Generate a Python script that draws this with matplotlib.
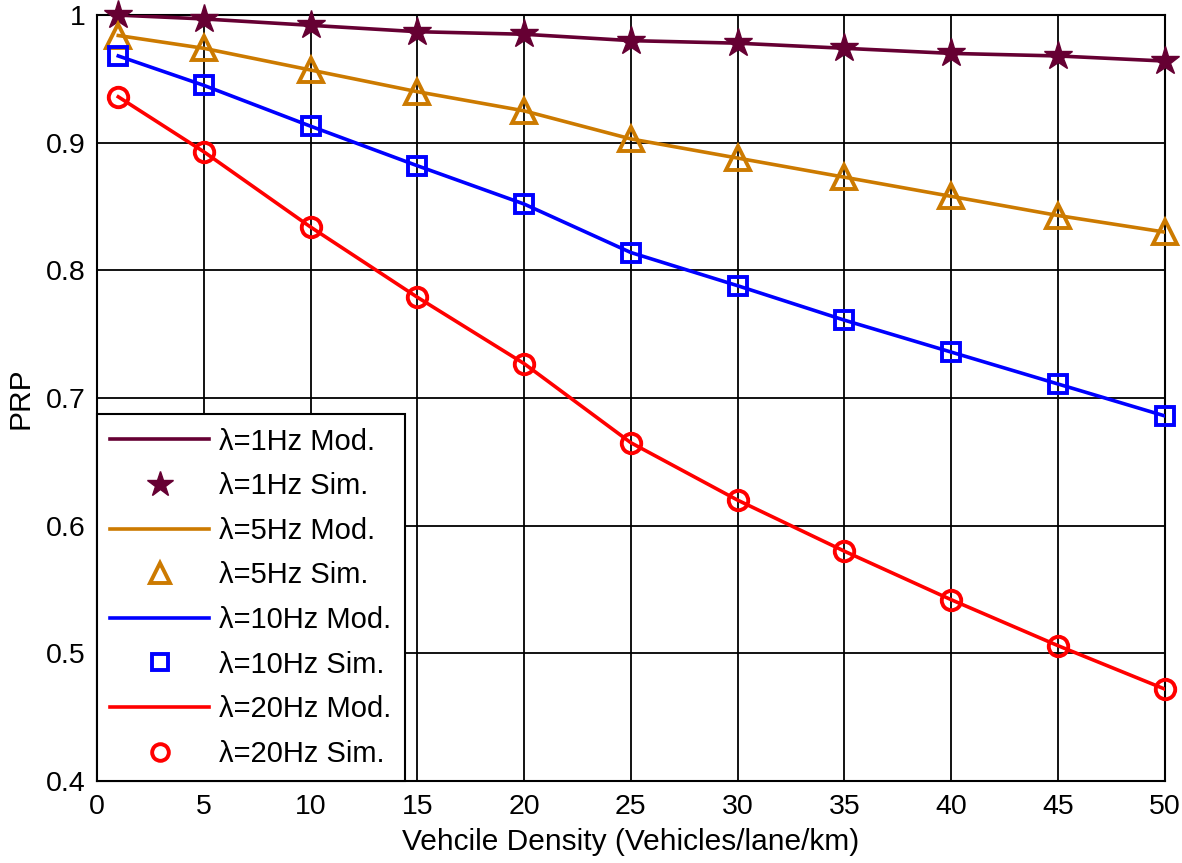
import matplotlib
matplotlib.use("Agg")
import matplotlib.pyplot as plt
from matplotlib.lines import Line2D

x = [1, 5, 10, 15, 20, 25, 30, 35, 40, 45, 50]
prp_1hz = [1.000, 0.997, 0.992, 0.987, 0.985, 0.980, 0.978, 0.974, 0.970, 0.968, 0.964]
prp_5hz = [0.984, 0.974, 0.957, 0.940, 0.925, 0.903, 0.888, 0.873, 0.858, 0.843, 0.830]
prp_10hz = [0.968, 0.945, 0.913, 0.882, 0.852, 0.814, 0.788, 0.761, 0.736, 0.711, 0.686]
prp_20hz = [0.936, 0.893, 0.834, 0.779, 0.727, 0.665, 0.620, 0.580, 0.542, 0.506, 0.472]

xticks = [0, 5, 10, 15, 20, 25, 30, 35, 40, 45, 50]
yticks = [0.4, 0.5, 0.6, 0.7, 0.8, 0.9, 1.0]
ytick_labels = ["0.4", "0.5", "0.6", "0.7", "0.8", "0.9", "1"]

series = [
    ("1Hz", prp_1hz, "#660033", "*", 21),
    ("5Hz", prp_5hz, "#CC7A00", "^", 17),
    ("10Hz", prp_10hz, "#0000FF", "s", 13),
    ("20Hz", prp_20hz, "#FF0000", "o", 14),
]

plt.rcParams['font.family'] = ['Liberation Sans', 'DejaVu Sans']

fig = plt.figure(figsize=(11.82, 8.63), dpi=100)
ax = fig.add_axes([0.082, 0.095, 0.9035, 0.8875])

handles = []
labels = []
for name, y, c, m, ms in series:
    ax.plot(x, y, color=c, lw=2.6, zorder=3)
    if m == "*":
        ax.plot(x, y, ls="none", marker=m, ms=ms, color=c, mec=c, zorder=4, clip_on=False)
        mh = Line2D([], [], ls="none", marker=m, ms=ms - 2, color=c, mec=c)
    else:
        ax.plot(x, y, ls="none", marker=m, ms=ms, mfc="none", mec=c, mew=2.8, zorder=4, clip_on=False)
        mh = Line2D([], [], ls="none", marker=m, ms=ms - 2, mfc="none", mec=c, mew=2.8)
    handles.append(Line2D([], [], color=c, lw=2.6))
    labels.append("\u03bb=%s Mod." % name)
    handles.append(mh)
    labels.append("\u03bb=%s Sim." % name)

ax.set_xlim(0, 50)
ax.set_ylim(0.4, 1.0)
ax.set_xticks(xticks)
ax.set_yticks(yticks)
ax.set_yticklabels(ytick_labels)
ax.grid(True, color="black", lw=1.3, ls="-")
ax.set_axisbelow(True)
ax.tick_params(direction="in", length=0, labelsize=20.5)
ax.tick_params(axis="x", pad=9)
ax.tick_params(axis="y", pad=8)
for s in ax.spines.values():
    s.set_linewidth(1.5)
ax.set_xlabel("Vehcile Density (Vehicles/lane/km)", fontsize=21.5, labelpad=6)
ax.set_ylabel("PRP", fontsize=21.5, labelpad=8)

leg = ax.legend(handles, labels, loc="lower left", fontsize=21, frameon=True,
                fancybox=False, edgecolor="black", framealpha=1.0,
                borderaxespad=0.0, handlelength=3.4, labelspacing=0.57,
                borderpad=0.45, handletextpad=0.35)
leg.get_frame().set_linewidth(1.5)
leg.set_zorder(10)

fig.savefig("out.png", dpi=100)
